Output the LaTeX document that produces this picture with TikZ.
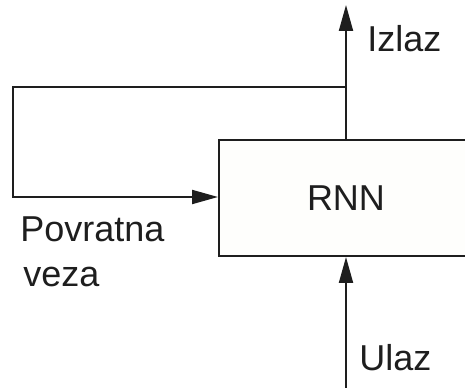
\documentclass[tikz,border=0pt]{standalone}
\usepackage{fontspec}
\setmainfont{Liberation Sans}
\usetikzlibrary{arrows.meta,positioning}
\definecolor{boxfill}{RGB}{254,254,252}
\definecolor{ink}{RGB}{30,30,30}

\begin{document}
\begin{tikzpicture}[
		x=0.75pt, y=-0.75pt,
		block/.style={rectangle, draw=ink, fill=boxfill, line width=1.5pt, minimum width=190.5pt, minimum height=87pt, text=ink, font=\fontsize{27}{33.75}\selectfont},
		lbl/.style={inner sep=0pt, anchor=base west, text=ink, font=\fontsize{27}{33.75}\selectfont},
		arrow/.style={-{Triangle[length=19.5pt,width=10.5pt]}, draw=ink, line width=1.5pt}
		]
		\useasboundingbox (0,0) rectangle (465,388);
		
		% Main block
		\node[block] (rnn) at (346,198) {RNN};
		\coordinate (split) at (346,87);
		\coordinate (top) at (346,5);
		\coordinate (loop) at (13,197);
		\coordinate (bottom) at (346,388);
		
		% Labels
		\node[lbl] (izlaz) at (367,52) {Izlaz};
		\node[lbl] (ulaz) at (359,371) {Ulaz};
		\node[lbl] (povratna) at (20,242) {Povratna};
		\node[lbl] (veza) at (23,287) {veza};
		
		% Arrows
		\draw[arrow] (rnn.north) -- (top);
		\draw[arrow] (split) -| (loop) -- (loop -| rnn.west);
		\draw[arrow] (bottom) -- (rnn.south);
		
	\end{tikzpicture}
\end{document}
